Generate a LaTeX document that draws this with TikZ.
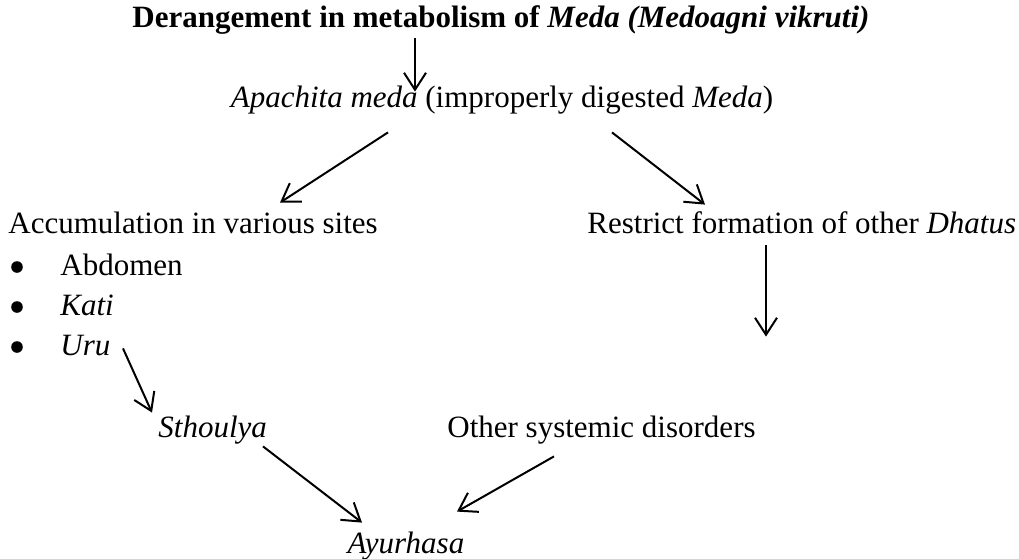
\documentclass[tikz,border=0pt]{standalone}
\usepackage{fontspec}
\setmainfont{Liberation Serif}
\usepackage{tikz}
\usetikzlibrary{arrows.meta, positioning}
\newcommand{\flowfont}{\fontsize{15.5}{18}\selectfont}

\begin{document}
\begin{tikzpicture}[x=0.5pt, y=-0.5pt,
    txt/.style={inner sep=0pt, text height=10pt, text depth=3pt, font=\flowfont},
    arr/.style={-{Straight Barb[length=8.5pt, width=11pt]}, line width=1pt}]
      \useasboundingbox (0,0) rectangle (1019,558);

      % top
      \node[txt, anchor=base] (title) at (501,27) {\textbf{Derangement in metabolism of \textit{Meda (Medoagni vikruti)}}};
      \node[txt, anchor=base] (apachita) at (502,107) {\textit{Apachita meda} (improperly digested \textit{Meda})};
      \draw[arr] ([shift={(-86,5)}]title.south) -- ([shift={(-87,5)}]apachita.north);

      % left branch
      \node[txt, anchor=base west] (accum) at (8,233) {Accumulation in various sites};
      \node[txt, anchor=base west] (abdomen) at (60,275) {Abdomen};
      \node[txt, anchor=base west] (kati) at (60,315) {\textit{Kati}};
      \node[txt, anchor=base west] (uru) at (60,355) {\textit{Uru}};
      \foreach \y in {267,307,347}{
        \fill (17,\y) circle (2.9pt);
      }
      \node[txt, anchor=base west] (sthoulya) at (158,437) {\textit{Sthoulya}};
      \draw[arr] ([shift={(-114,19)}]apachita.south) -- ([shift={(272,-10)}]accum.north west);
      \draw[arr] ([shift={(63,-13)}]uru.south west) -- ([shift={(-6,-4)}]sthoulya.north west);

      % right branch
      \node[txt, anchor=base west] (restrict) at (587,233) {Restrict formation of other \textit{Dhatus}};
      \node[txt, anchor=base west] (other) at (447,437) {Other systemic disorders};
      \draw[arr] ([shift={(110,19)}]apachita.south) -- ([shift={(118,-8)}]restrict.north west);
      \draw[arr] ([shift={(179,6)}]restrict.south west) -- ([shift={(319,-80)}]other.north west);

      % bottom
      \node[txt, anchor=base] (ayurhasa) at (406,553) {\textit{Ayurhasa}};
      \draw[arr] ([shift={(105,3)}]sthoulya.south west) -- ([shift={(-44,-10)}]ayurhasa.north);
      \draw[arr] ([shift={(107,13)}]other.south west) -- ([shift={(51,-21)}]ayurhasa.north);
    \end{tikzpicture}
\end{document}
